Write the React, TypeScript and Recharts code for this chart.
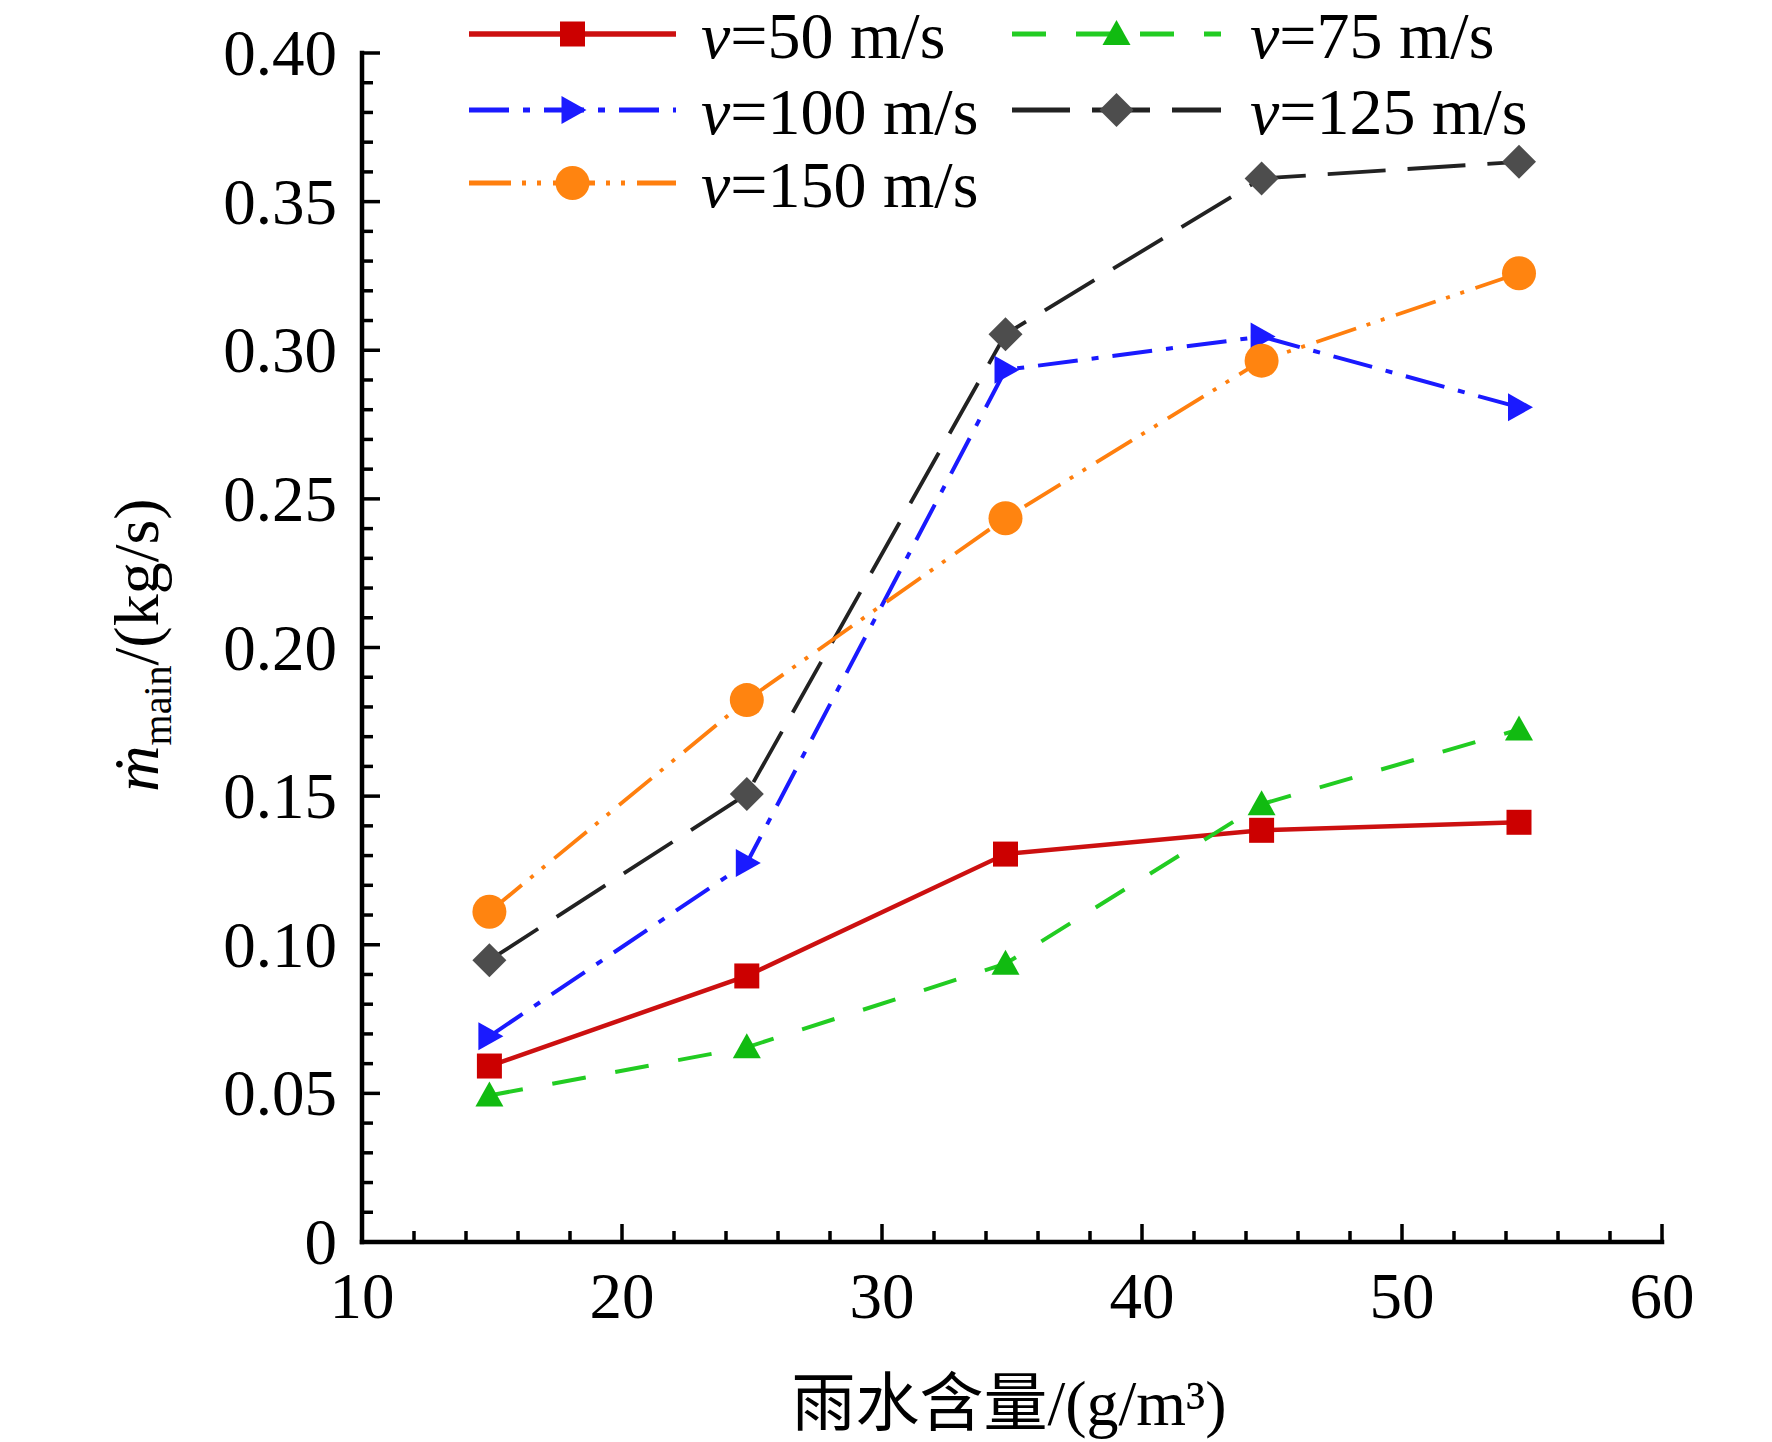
import React from 'react';
import { LineChart, Line, XAxis, YAxis, Legend, Label } from 'recharts';

// ---- data ----
const rainContent = [14.9, 24.8, 34.75, 44.6, 54.5];
const v50 = [0.0592, 0.0895, 0.1305, 0.1385, 0.1412];
const v75 = [0.0493, 0.0655, 0.0936, 0.1473, 0.1724];
const v100 = [0.0692, 0.1275, 0.2934, 0.3046, 0.2808];
const v125 = [0.0948, 0.1507, 0.3054, 0.3578, 0.3634];
const v150 = [0.1111, 0.1823, 0.2435, 0.2965, 0.3259];

const speedLabels = ['50', '75', '100', '125', '150'];
const xTicks = [10, 12, 14, 16, 18, 20, 22, 24, 26, 28, 30, 32, 34, 36, 38, 40, 42, 44, 46, 48, 50, 52, 54, 56, 58, 60];
const xTickLabels = ['10', '20', '30', '40', '50', '60'];
const yTicks = Array.from({ length: 41 }, (_, i) => i / 100);
const yTickLabels = ['0', '0.05', '0.10', '0.15', '0.20', '0.25', '0.30', '0.35', '0.40'];
const xTitle = '雨水含量/(g/m³)';

const data = rainContent.map((x, i) => ({
  x,
  v50: v50[i],
  v75: v75[i],
  v100: v100[i],
  v125: v125[i],
  v150: v150[i],
}));

// ---- styles ----
const FONT = '"Times New Roman", "Liberation Serif", "Noto Sans CJK SC", serif';
type MarkerKind = 'square' | 'triUp' | 'triRight' | 'diamond' | 'circle';
const series: { key: string; color: string; fill: string; dash?: string; width: number; marker: MarkerKind }[] = [
  { key: 'v50', color: '#cc1010', fill: '#cc0000', width: 4.5, marker: 'square' },
  { key: 'v75', color: '#22cc22', fill: '#11bb11', dash: '34 30', width: 4, marker: 'triUp' },
  { key: 'v100', color: '#1a1aff', fill: '#1a1aff', dash: '40 14 7 14', width: 4, marker: 'triRight' },
  { key: 'v125', color: '#222222', fill: '#4d4d4d', dash: '58 22', width: 3.8, marker: 'diamond' },
  { key: 'v150', color: '#ff7f0e', fill: '#ff8410', dash: '42 11 4 11 4 12', width: 3.8, marker: 'circle' },
];

function Marker({ kind, cx, cy, fill }: { kind: MarkerKind; cx: number; cy: number; fill: string }) {
  if (cx == null || cy == null) return null;
  switch (kind) {
    case 'square':
      return <rect x={cx - 12.5} y={cy - 12.5} width={25} height={25} fill={fill} />;
    case 'triUp':
      return <polygon points={`${cx},${cy - 14} ${cx + 14},${cy + 11} ${cx - 14},${cy + 11}`} fill={fill} />;
    case 'triRight':
      return <polygon points={`${cx + 14},${cy} ${cx - 11},${cy - 14} ${cx - 11},${cy + 14}`} fill={fill} />;
    case 'diamond':
      return <polygon points={`${cx},${cy - 17} ${cx + 17},${cy} ${cx},${cy + 17} ${cx - 17},${cy}`} fill={fill} />;
    default:
      return <circle cx={cx} cy={cy} r={17} fill={fill} />;
  }
}

const XTick = (props: any) => {
  const { x, y, payload } = props;
  const v = Math.round(payload.value);
  const major = v % 10 === 0;
  return (
    <g>
      <line x1={x} x2={x} y1={y} y2={y - (major ? 18 : 11)} stroke="#000" strokeWidth={3.5} />
      {major && (
        <text x={x} y={y + 76} textAnchor="middle" fontSize={65} fontFamily={FONT} fill="#000">
          {xTickLabels[(v - 10) / 10]}
        </text>
      )}
    </g>
  );
};

const YTick = (props: any) => {
  const { x, y, payload } = props;
  const h = Math.round(payload.value * 100);
  const major = h % 5 === 0;
  return (
    <g>
      <line x1={x} x2={x + (major ? 18 : 11)} y1={y} y2={y} stroke="#000" strokeWidth={3.5} />
      {major && (
        <text x={x - 25} y={y + 22} textAnchor="end" fontSize={65} fontFamily={FONT} fill="#000">
          {yTickLabels[h / 5]}
        </text>
      )}
    </g>
  );
};

const legendCols = [
  { x1: 469, x2: 676, tx: 701 },
  { x1: 1012, x2: 1221, tx: 1250 },
];
const legendRows = [34, 110, 183];

const LegendContent = () => (
  <svg width={1772} height={240} style={{ display: 'block', overflow: 'visible' }}>
    {series.map((s, i) => {
      const col = legendCols[i % 2];
      const row = legendRows[Math.floor(i / 2)];
      const mid = (col.x1 + col.x2) / 2;
      return (
        <g key={s.key}>
          <line x1={col.x1} x2={col.x2} y1={row} y2={row} stroke={s.color} strokeWidth={s.width + 1} strokeDasharray={s.dash} />
          <Marker kind={s.marker} cx={mid} cy={row} fill={s.fill} />
          <text x={col.tx} y={row + 24} fontSize={66} fontFamily={FONT} fill="#000">
            <tspan fontStyle="italic">v</tspan>
            <tspan>{`=${speedLabels[i]} m/s`}</tspan>
          </text>
        </g>
      );
    })}
  </svg>
);

const XTitle = () => (
  <text x={1009} y={1425} textAnchor="middle" fontSize={64} fontFamily={FONT} fill="#000">
    {xTitle}
  </text>
);

const YTitle = () => (
  <text
    x={158}
    y={645}
    transform="rotate(-90, 158, 645)"
    textAnchor="middle"
    fontSize={64}
    fontFamily={FONT}
    fill="#000"
  >
    <tspan fontStyle="italic">ṁ</tspan>
    <tspan fontSize={40} dy={13}>main</tspan>
    <tspan dy={-13}>/(kg/s)</tspan>
  </text>
);

export default function App() {
  return (
    <div>
      <style>{`body{margin:0;background:#fff} .recharts-surface{overflow:visible}`}</style>
      <LineChart
        width={1772}
        height={1440}
        data={data}
        margin={{ top: 53, right: 110, left: 242, bottom: 78 }}
      >
        <XAxis
          dataKey="x"
          type="number"
          domain={[10, 60]}
          ticks={xTicks}
          interval={0}
          tickSize={0}
          tickMargin={0}
          tickLine={false}
          height={120}
          axisLine={{ stroke: '#000', strokeWidth: 4.5, strokeLinecap: 'square' }}
          tick={<XTick />}
        >
          <Label content={<XTitle />} />
        </XAxis>
        <YAxis
          type="number"
          domain={[0, 0.4]}
          ticks={yTicks}
          interval={0}
          tickSize={0}
          tickMargin={0}
          tickLine={false}
          width={120}
          axisLine={{ stroke: '#000', strokeWidth: 4.5, strokeLinecap: 'square' }}
          tick={<YTick />}
        >
          <Label content={<YTitle />} />
        </YAxis>
        <Legend
          layout="horizontal"
          verticalAlign="middle"
          align="center"
          content={() => <LegendContent />}
          wrapperStyle={{ left: 0, top: 0, width: 1772, height: 240 }}
        />
        {series.map((s) => (
          <Line
            key={s.key}
            dataKey={s.key}
            type="linear"
            stroke={s.color}
            strokeWidth={s.width}
            strokeDasharray={s.dash}
            isAnimationActive={false}
            activeDot={false}
            dot={(p: any) => (
              <Marker key={`${s.key}-${p.index}`} kind={s.marker} cx={p.cx} cy={p.cy} fill={s.fill} />
            )}
          />
        ))}
      </LineChart>
    </div>
  );
}
